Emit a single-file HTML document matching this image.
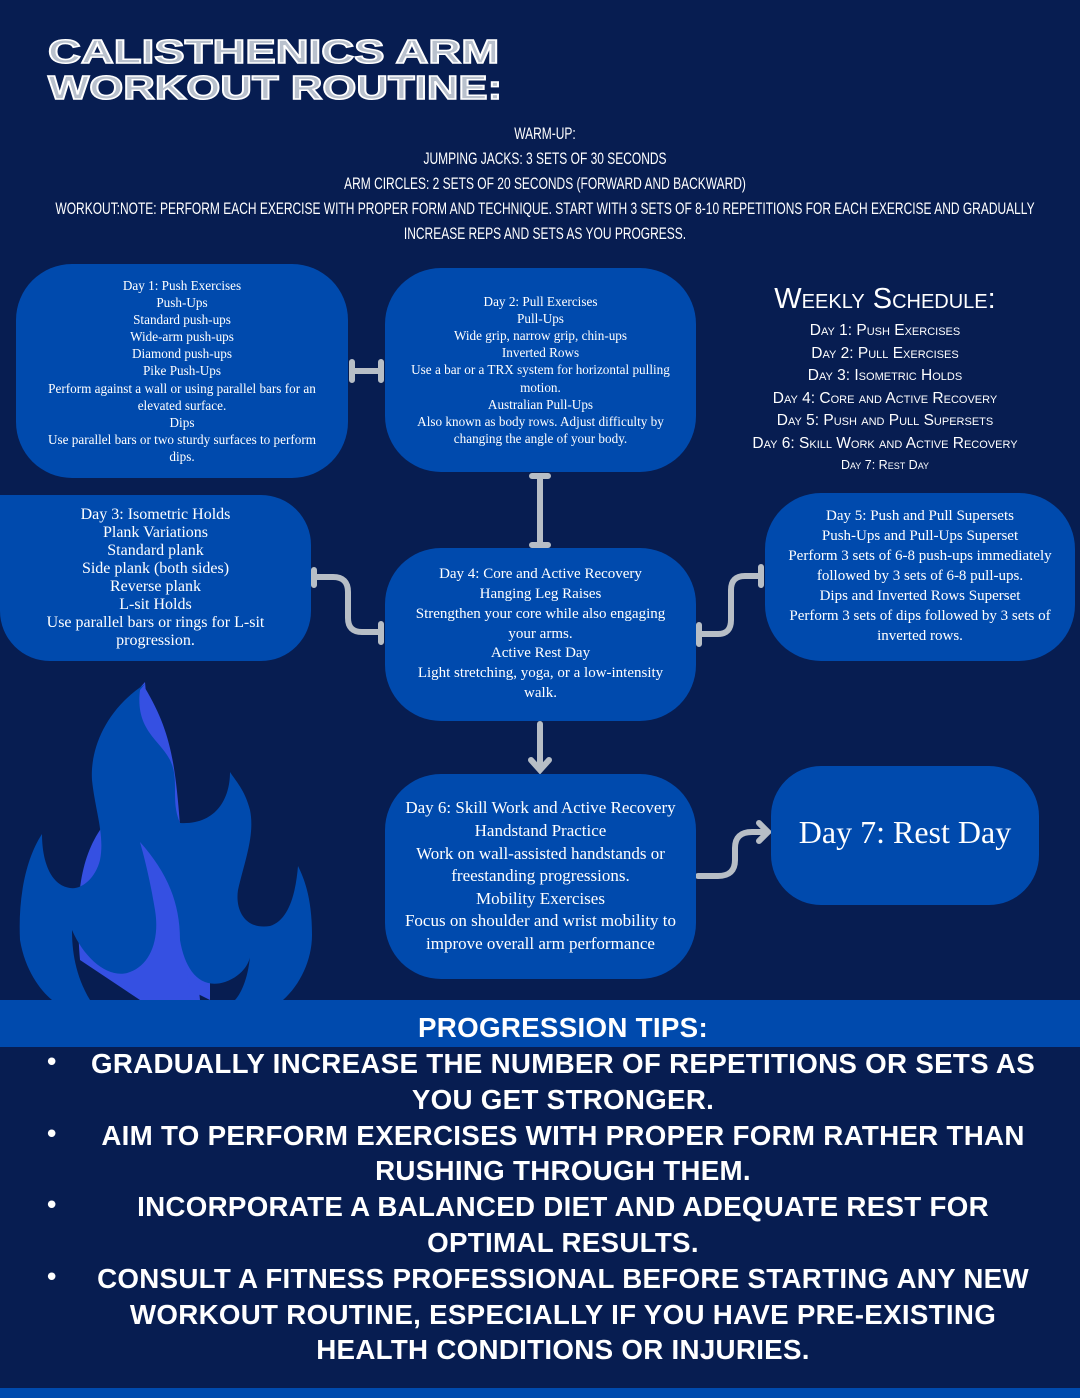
<!DOCTYPE html>
<html><head><meta charset="utf-8">
<style>
*{margin:0;padding:0;box-sizing:border-box}
body{width:1080px;height:1398px;background:#071d51;position:relative;overflow:hidden;font-family:"Liberation Serif",serif;color:#fff}
.box{position:absolute;background:#004aad;border-radius:56px;display:flex;flex-direction:column;justify-content:center;align-items:center;text-align:center}
.hd{position:absolute;left:0;width:1080px;font-family:"Liberation Sans",sans-serif;font-size:17px;line-height:25px;}
.hd div,.pt div{width:max-content;white-space:nowrap}
.hd div{margin-left:545px;transform:translateX(-50%) scaleX(0.705)}
.ws{position:absolute;left:730px;width:310px;text-align:center;font-family:"Liberation Sans",sans-serif;font-variant:small-caps;color:#fff;white-space:nowrap}
.pt{position:absolute;left:0;width:1080px;font-family:"Liberation Sans",sans-serif;font-weight:bold;font-size:28px;line-height:35.8px;}
.pt div{margin-left:563px;transform:translateX(-50%) scaleX(0.99);letter-spacing:0.3px}
.bul{position:absolute;left:44px;font-size:26px;font-family:"DejaVu Sans",sans-serif}
</style></head><body>

<div style="position:absolute;left:48px;top:34px;font-family:'Liberation Sans',sans-serif;font-weight:900;font-size:33px;line-height:36px;color:#b9c1cd;-webkit-text-stroke:1.5px #fff;transform-origin:0 0;transform:scaleX(1.38);white-space:nowrap">CALISTHENICS ARM<br><span style="display:inline-block;transform-origin:0 0;transform:scaleX(0.96)">WORKOUT ROUTINE:</span></div>

<div class="hd" style="top:121px">
<div>WARM-UP:</div>
<div>JUMPING JACKS: 3 SETS OF 30 SECONDS</div>
<div>ARM CIRCLES: 2 SETS OF 20 SECONDS (FORWARD AND BACKWARD)</div>
<div>WORKOUT:NOTE: PERFORM EACH EXERCISE WITH PROPER FORM AND TECHNIQUE. START WITH 3 SETS OF 8-10 REPETITIONS FOR EACH EXERCISE AND GRADUALLY</div>
<div>INCREASE REPS AND SETS AS YOU PROGRESS.</div>
</div>

<svg style="position:absolute;left:0;top:660px" width="330" height="340" viewBox="0 0 330 340">
<path fill="#3550e2" d="M145 22 C110 60 95 110 110 150 L100 170 C80 200 75 240 80 300 L140 340 L200 340 L195 290 C185 240 165 190 150 170 C140 110 150 70 145 22Z"/>
<path fill="#3550e2" d="M145 28 C130 70 135 130 160 160 L175 250 L190 330 L210 340 L210 290 C200 240 185 200 180 165 C175 100 170 70 145 28Z"/>
<path fill="#004aad" d="M145 24 C105 50 90 90 92 120 C95 150 105 175 100 200 C95 220 80 230 70 228 C50 225 42 200 42 174 C25 200 18 240 20 280 C25 310 40 330 52 340 L90 340 C75 315 72 290 72 270 C85 300 110 320 130 312 C150 305 160 280 155 250 C150 220 145 200 140 182 C165 210 180 240 180 280 C185 310 200 330 225 322 C245 315 250 300 250 296 C248 320 240 335 235 340 L283 340 C300 325 312 300 312 275 C312 240 305 220 298 206 C296 230 290 260 270 266 C245 270 235 250 238 230 C245 200 255 175 250 150 C245 130 235 120 230 112 C230 140 215 165 180 163 C170 140 180 120 170 100 C160 80 135 70 140 30 Z"/>
</svg>

<svg style="position:absolute;left:0;top:0" width="1080" height="1000">
<g stroke="#b7bec6" stroke-width="6" fill="none" stroke-linecap="round">
<path d="M352 371 H381 M352 362 V380 M381 362 V380"/>
<path d="M540 477 V545 M532 476 H548 M532 545 H548"/>
<path d="M314 570 V585 M314 577 H333 Q348 577 348 592 V618 Q348 632 362 632 H381 M381 624 V642"/>
<path d="M699 625 V644 M699 634 H718 Q731 634 731 620 V590 Q731 576 745 576 H761 M761 567 V585"/>
<path d="M540 724 V770 M531 760 L540 770 L549 760"/>
<path d="M698 876 H718 Q735 876 735 860 V848 Q735 832 752 832 H768 M759 823 L768 832 L759 841"/>
</g></svg>

<div class="box" style="left:16px;top:264px;width:332px;height:214px;font-size:13.2px;line-height:17.1px">
<div>Day 1: Push Exercises</div><div>Push-Ups</div><div>Standard push-ups</div><div>Wide-arm push-ups</div><div>Diamond push-ups</div><div>Pike Push-Ups</div><div>Perform against a wall or using parallel bars for an</div><div>elevated surface.</div><div>Dips</div><div>Use parallel bars or two sturdy surfaces to perform</div><div>dips.</div>
</div>
<div class="box" style="left:385px;top:268px;width:311px;height:204px;font-size:13.2px;line-height:17.1px">
<div>Day 2: Pull Exercises</div><div>Pull-Ups</div><div>Wide grip, narrow grip, chin-ups</div><div>Inverted Rows</div><div>Use a bar or a TRX system for horizontal pulling</div><div>motion.</div><div>Australian Pull-Ups</div><div>Also known as body rows. Adjust difficulty by</div><div>changing the angle of your body.</div>
</div>
<div class="box" style="left:0px;top:495px;width:311px;height:166px;font-size:16px;line-height:18px;border-radius:0 50px 50px 50px">
<div>Day 3: Isometric Holds</div><div>Plank Variations</div><div>Standard plank</div><div>Side plank (both sides)</div><div>Reverse plank</div><div>L-sit Holds</div><div>Use parallel bars or rings for L-sit</div><div>progression.</div>
</div>
<div class="box" style="left:385px;top:548px;width:311px;height:173px;font-size:15px;line-height:19.8px">
<div>Day 4: Core and Active Recovery</div><div>Hanging Leg Raises</div><div>Strengthen your core while also engaging</div><div>your arms.</div><div>Active Rest Day</div><div>Light stretching, yoga, or a low-intensity</div><div>walk.</div>
</div>
<div class="box" style="left:765px;top:493px;width:310px;height:168px;font-size:15px;line-height:19.9px">
<div>Day 5: Push and Pull Supersets</div><div>Push-Ups and Pull-Ups Superset</div><div>Perform 3 sets of 6-8 push-ups immediately</div><div>followed by 3 sets of 6-8 pull-ups.</div><div>Dips and Inverted Rows Superset</div><div>Perform 3 sets of dips followed by 3 sets of</div><div>inverted rows.</div>
</div>
<div class="box" style="left:385px;top:774px;width:311px;height:205px;font-size:17px;line-height:22.6px">
<div>Day 6: Skill Work and Active Recovery</div><div>Handstand Practice</div><div>Work on wall-assisted handstands or</div><div>freestanding progressions.</div><div>Mobility Exercises</div><div>Focus on shoulder and wrist mobility to</div><div>improve overall arm performance</div>
</div>
<div class="box" style="left:771px;top:766px;width:268px;height:139px;font-size:32px;border-radius:50px">
<div style="margin-top:-6px">Day 7: Rest Day</div>
</div>

<div class="ws" style="top:282px;font-size:29px;line-height:34px">Weekly Schedule:</div>
<div class="ws" style="top:320px;font-size:15.5px;line-height:22.5px">
<div>Day 1: Push Exercises</div><div>Day 2: Pull Exercises</div><div>Day 3: Isometric Holds</div><div>Day 4: Core and Active Recovery</div><div>Day 5: Push and Pull Supersets</div><div>Day 6: Skill Work and Active Recovery</div><div style="font-size:12.5px;line-height:20px">Day 7: Rest Day</div>
</div>

<div style="position:absolute;left:0;top:1000px;width:1080px;height:47px;background:#004aad"></div>
<div style="position:absolute;left:0;top:1388px;width:1080px;height:10px;background:#004aad"></div>

<div class="pt" style="top:1010px"><div>PROGRESSION TIPS:</div></div>
<div class="pt" style="top:1046px">
<div>GRADUALLY INCREASE THE NUMBER OF REPETITIONS OR SETS AS</div>
<div>YOU GET STRONGER.</div>
<div>AIM TO PERFORM EXERCISES WITH PROPER FORM RATHER THAN</div>
<div>RUSHING THROUGH THEM.</div>
<div>INCORPORATE A BALANCED DIET AND ADEQUATE REST FOR</div>
<div>OPTIMAL RESULTS.</div>
<div>CONSULT A FITNESS PROFESSIONAL BEFORE STARTING ANY NEW</div>
<div>WORKOUT ROUTINE, ESPECIALLY IF YOU HAVE PRE-EXISTING</div>
<div>HEALTH CONDITIONS OR INJURIES.</div>
</div>
<div class="bul" style="top:1048px">•</div>
<div class="bul" style="top:1120px">•</div>
<div class="bul" style="top:1191px">•</div>
<div class="bul" style="top:1263px">•</div>
</body></html>
